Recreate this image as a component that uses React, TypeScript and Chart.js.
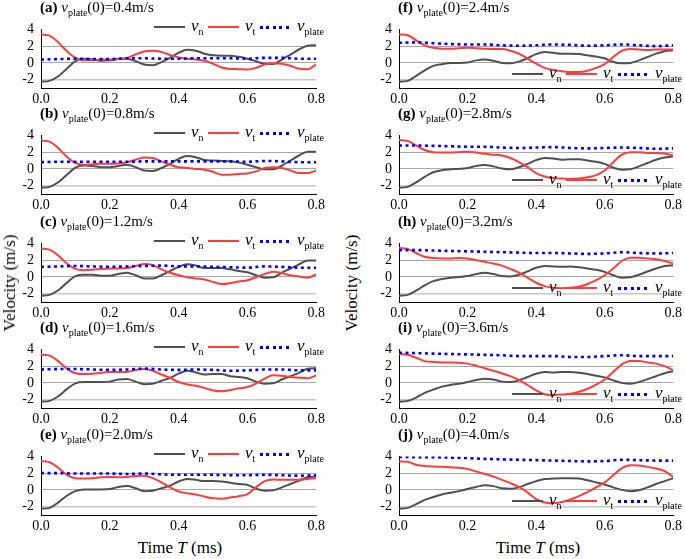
import React, { useEffect, useRef } from "react";
import { Chart, registerables } from "chart.js";

Chart.register(...registerables);

const FONT = "'Liberation Serif', serif";

const TIME = [0, 0.025, 0.05, 0.075, 0.1, 0.125, 0.15, 0.175, 0.2, 0.225, 0.25, 0.275, 0.3, 0.325, 0.35, 0.375, 0.4, 0.425, 0.45, 0.475, 0.5, 0.525, 0.55, 0.575, 0.6, 0.625, 0.65, 0.675, 0.7, 0.725, 0.75, 0.775, 0.8];
const TIME_P = [0, 0.05, 0.1, 0.15, 0.2, 0.25, 0.3, 0.35, 0.4, 0.45, 0.5, 0.55, 0.6, 0.65, 0.7, 0.75, 0.8];
const X_TICKS = [0, 0.2, 0.4, 0.6, 0.8];
const Y_TICKS = [-2, 0, 2, 4];

const VN_A = [-2.25, -2.15, -1.6, -0.7, 0.2, 0.5, 0.45, 0.25, 0.3, 0.45, 0.5, 0.2, -0.2, -0.28, 0.1, 0.6, 1.2, 1.58, 1.45, 1.1, 0.9, 0.85, 0.85, 0.72, 0.5, 0.2, -0.1, -0.12, 0.4, 1.0, 1.6, 2.05, 2.1];
const VT_A = [3.4, 3.25, 2.45, 1.4, 0.62, 0.3, 0.3, 0.4, 0.4, 0.45, 0.6, 1.0, 1.35, 1.44, 1.3, 0.95, 0.65, 0.5, 0.4, 0.25, -0.1, -0.55, -0.72, -0.75, -0.8, -0.6, -0.2, -0.05, -0.1, -0.35, -0.7, -0.75, -0.2];
const VP_A = [0.4, 0.45, 0.5, 0.45, 0.45, 0.55, 0.55, 0.5, 0.5, 0.55, 0.55, 0.55, 0.5, 0.6, 0.6, 0.5, 0.5];

const VN_B = [-2.25, -2.15, -1.6, -0.7, 0.15, 0.4, 0.35, 0.2, 0.2, 0.35, 0.5, 0.2, -0.2, -0.25, 0.1, 0.6, 1.2, 1.55, 1.4, 1.05, 1.0, 0.95, 0.9, 0.75, 0.5, 0.2, -0.05, -0.05, 0.4, 1.0, 1.6, 2.05, 2.05];
const VT_B = [3.4, 3.25, 2.5, 1.45, 0.7, 0.5, 0.55, 0.6, 0.6, 0.65, 0.8, 1.1, 1.35, 1.3, 0.9, 0.5, 0.2, 0.1, 0.0, -0.1, -0.35, -0.7, -0.7, -0.6, -0.55, -0.3, 0.1, 0.2, 0.1, -0.2, -0.5, -0.5, -0.2];
const VP_B = [0.8, 0.85, 0.85, 0.85, 0.85, 0.85, 0.9, 0.9, 0.9, 0.9, 0.9, 0.9, 0.85, 0.95, 0.9, 0.8, 0.8];

const VN_C = [-2.25, -2.15, -1.6, -0.7, 0.1, 0.25, 0.25, 0.15, 0.15, 0.35, 0.5, 0.2, -0.2, -0.2, 0.2, 0.7, 1.2, 1.5, 1.35, 1.05, 1.05, 1.05, 0.9, 0.7, 0.55, 0.2, -0.1, -0.05, 0.5, 1.0, 1.5, 1.95, 1.95];
const VT_C = [3.4, 3.25, 2.55, 1.6, 0.95, 0.8, 0.85, 0.95, 1.0, 1.0, 1.05, 1.3, 1.55, 1.4, 0.9, 0.5, 0.2, -0.05, -0.2, -0.3, -0.6, -0.85, -0.75, -0.55, -0.4, -0.05, 0.35, 0.6, 0.45, 0.2, 0.05, -0.1, 0.3];
const VP_C = [1.2, 1.25, 1.3, 1.25, 1.2, 1.25, 1.3, 1.35, 1.25, 1.25, 1.2, 1.15, 1.1, 1.25, 1.2, 1.1, 1.1];

const VN_D = [-2.25, -2.15, -1.6, -0.75, -0.05, 0.1, 0.1, 0.1, 0.15, 0.4, 0.45, 0.15, -0.15, -0.1, 0.25, 0.6, 1.1, 1.45, 1.25, 1.0, 1.05, 1.05, 0.8, 0.7, 0.55, 0.15, -0.1, -0.05, 0.4, 0.8, 1.2, 1.7, 1.75];
const VT_D = [3.4, 3.25, 2.6, 1.7, 1.15, 1.05, 1.1, 1.2, 1.3, 1.3, 1.3, 1.55, 1.65, 1.45, 1.0, 0.6, 0.1, -0.2, -0.35, -0.6, -0.9, -1.0, -0.85, -0.65, -0.5, -0.1, 0.5, 0.9, 0.85, 0.7, 0.6, 0.55, 0.9];
const VP_D = [1.6, 1.65, 1.65, 1.6, 1.55, 1.6, 1.7, 1.6, 1.55, 1.6, 1.55, 1.45, 1.5, 1.6, 1.6, 1.5, 1.5];

const VN_E = [-2.25, -2.15, -1.5, -0.7, -0.15, 0.05, 0.05, 0.05, 0.1, 0.35, 0.45, 0.2, -0.15, -0.1, 0.2, 0.5, 1.0, 1.3, 1.2, 1.05, 1.05, 1.0, 0.85, 0.7, 0.6, 0.15, -0.1, -0.05, 0.3, 0.7, 1.1, 1.5, 1.6];
const VT_E = [3.45, 3.3, 2.65, 1.8, 1.4, 1.35, 1.4, 1.5, 1.55, 1.5, 1.55, 1.65, 1.7, 1.4, 0.9, 0.3, -0.2, -0.4, -0.55, -0.8, -1.0, -1.05, -0.9, -0.75, -0.5, 0.3, 1.05, 1.25, 1.2, 1.2, 1.2, 1.3, 1.4];
const VP_E = [2.0, 2.0, 1.95, 1.95, 1.95, 1.9, 1.95, 1.85, 1.8, 1.8, 1.8, 1.75, 1.75, 1.8, 1.75, 1.7, 1.75];

const VN_F = [-2.25, -2.15, -1.55, -0.9, -0.35, -0.15, 0.0, 0.0, 0.05, 0.3, 0.4, 0.25, 0.0, -0.05, 0.15, 0.55, 1.05, 1.3, 1.2, 1.1, 1.1, 1.05, 0.9, 0.75, 0.55, 0.1, -0.05, 0.0, 0.3, 0.7, 1.1, 1.4, 1.5];
const VT_F = [3.4, 3.3, 2.7, 2.1, 1.8, 1.7, 1.7, 1.75, 1.8, 1.75, 1.7, 1.65, 1.65, 1.45, 1.1, 0.5, -0.1, -0.6, -0.85, -1.0, -1.1, -1.1, -0.95, -0.6, -0.15, 0.7, 1.45, 1.65, 1.6, 1.55, 1.6, 1.6, 1.6];
const VP_F = [2.4, 2.45, 2.35, 2.25, 2.2, 2.2, 2.1, 2.05, 2.1, 2.2, 2.15, 2.05, 2.1, 2.2, 2.1, 2.0, 2.1];

const VN_G = [-2.25, -2.15, -1.6, -0.95, -0.4, -0.15, -0.05, 0.0, 0.1, 0.35, 0.45, 0.3, 0.05, -0.05, 0.2, 0.6, 1.05, 1.3, 1.25, 1.1, 1.15, 1.15, 1.0, 0.85, 0.6, 0.15, -0.1, -0.05, 0.3, 0.7, 1.1, 1.35, 1.5];
const VT_G = [3.45, 3.35, 2.8, 2.25, 2.0, 1.95, 1.95, 2.0, 2.05, 1.95, 1.8, 1.7, 1.6, 1.3, 0.8, 0.2, -0.5, -0.9, -1.1, -1.15, -1.2, -1.15, -1.0, -0.75, -0.2, 0.8, 1.7, 2.0, 2.0, 1.9, 1.9, 1.85, 1.6];
const VP_G = [2.8, 2.8, 2.75, 2.7, 2.65, 2.65, 2.55, 2.5, 2.55, 2.6, 2.5, 2.45, 2.5, 2.55, 2.5, 2.4, 2.45];

const VN_H = [-2.25, -2.15, -1.65, -1.0, -0.5, -0.25, -0.1, 0.0, 0.1, 0.35, 0.5, 0.35, 0.1, 0.05, 0.25, 0.65, 1.1, 1.3, 1.25, 1.2, 1.25, 1.15, 1.0, 0.85, 0.6, 0.2, -0.1, -0.05, 0.25, 0.65, 1.0, 1.3, 1.4];
const VT_H = [3.45, 3.35, 2.85, 2.4, 2.25, 2.2, 2.2, 2.25, 2.2, 2.0, 1.8, 1.6, 1.35, 0.95, 0.5, -0.1, -0.7, -1.1, -1.3, -1.35, -1.3, -1.15, -0.85, -0.4, 0.2, 1.0, 1.9, 2.3, 2.3, 2.2, 2.1, 1.9, 1.6];
const VP_H = [3.2, 3.2, 3.15, 3.1, 3.05, 3.0, 2.95, 2.9, 2.85, 2.85, 2.8, 2.75, 2.8, 2.95, 2.85, 2.8, 2.85];

const VN_I = [-2.25, -2.15, -1.75, -1.2, -0.8, -0.45, -0.25, -0.1, 0.1, 0.35, 0.5, 0.4, 0.15, 0.1, 0.3, 0.7, 1.1, 1.3, 1.25, 1.3, 1.3, 1.2, 1.05, 0.85, 0.65, 0.3, 0.0, -0.1, 0.1, 0.45, 0.8, 1.15, 1.4];
const VT_I = [3.45, 3.35, 3.0, 2.6, 2.5, 2.45, 2.45, 2.4, 2.3, 2.05, 1.75, 1.45, 1.15, 0.8, 0.35, -0.25, -0.9, -1.35, -1.45, -1.4, -1.3, -1.05, -0.7, -0.2, 0.4, 1.3, 2.2, 2.6, 2.6, 2.45, 2.3, 2.0, 1.5];
const VP_I = [3.6, 3.55, 3.5, 3.45, 3.4, 3.35, 3.3, 3.2, 3.2, 3.2, 3.1, 3.1, 3.2, 3.3, 3.2, 3.2, 3.2];

const VN_J = [-2.25, -2.15, -1.7, -1.2, -0.85, -0.55, -0.35, -0.15, 0.1, 0.35, 0.55, 0.45, 0.2, 0.15, 0.3, 0.7, 1.05, 1.3, 1.35, 1.4, 1.4, 1.35, 1.15, 0.9, 0.65, 0.3, 0.0, -0.15, -0.05, 0.3, 0.7, 1.05, 1.4];
const VT_J = [3.4, 3.35, 3.0, 2.85, 2.8, 2.75, 2.7, 2.65, 2.5, 2.2, 1.9, 1.6, 1.2, 0.8, 0.35, -0.3, -1.1, -1.5, -1.6, -1.45, -1.15, -0.75, -0.25, 0.3, 0.9, 1.75, 2.6, 2.95, 2.9, 2.75, 2.55, 2.25, 1.5];
const VP_J = [3.95, 3.9, 3.9, 3.85, 3.8, 3.7, 3.65, 3.6, 3.55, 3.5, 3.45, 3.4, 3.45, 3.6, 3.55, 3.5, 3.5];

const LETTERS = ["(a)", "(b)", "(c)", "(d)", "(e)", "(f)", "(g)", "(h)", "(i)", "(j)"];
const V_PLATE0 = ["0.4", "0.8", "1.2", "1.6", "2.0", "2.4", "2.8", "3.2", "3.6", "4.0"];
const SERIES_VN = [VN_A, VN_B, VN_C, VN_D, VN_E, VN_F, VN_G, VN_H, VN_I, VN_J];
const SERIES_VT = [VT_A, VT_B, VT_C, VT_D, VT_E, VT_F, VT_G, VT_H, VT_I, VT_J];
const SERIES_VP = [VP_A, VP_B, VP_C, VP_D, VP_E, VP_F, VP_G, VP_H, VP_I, VP_J];

const COLOR_N = "#505050";
const COLOR_T = "#ff3c3c";
const COLOR_P = "#0000ff";

// layout
const COL_LEFT = [41, 399];
const COL_WIDTH = [279, 278];
const ROW_TOP = [22, 128, 236, 342, 449];
const PLOT_H = 66;
const Y_AXIS_W = 41;
const PAD_TOP = 8;
const X_AXIS_H = 22;
const PAD_RIGHT = 8;

const pts = (xs: number[], ys: number[]) => xs.map((x, i) => ({ x, y: ys[i] }));

const subStyle: React.CSSProperties = {
  fontSize: 10,
  verticalAlign: "baseline",
  position: "relative",
  top: 4,
  fontStyle: "normal",
};

function LegendItem({ x, y, kind, sub }: { x: number; y: number; kind: string; sub: string }) {
  const lineStyle: React.CSSProperties =
    kind === "p"
      ? {
          position: "absolute",
          left: x,
          top: y - 1.5,
          width: 31,
          height: 3,
          background: `repeating-linear-gradient(to right, ${COLOR_P} 0px, ${COLOR_P} 3px, transparent 3px, transparent 6.5px)`,
        }
      : {
          position: "absolute",
          left: x,
          top: y - 1,
          width: 31,
          height: 2,
          background: kind === "n" ? COLOR_N : COLOR_T,
        };
  return (
    <>
      <div style={lineStyle} />
      <div
        style={{
          position: "absolute",
          left: x + 37,
          top: y - 10,
          fontSize: 17,
          lineHeight: "17px",
          whiteSpace: "nowrap",
          fontStyle: "italic",
        }}
      >
        v<span style={subStyle}>{sub}</span>
      </div>
    </>
  );
}

function Panel({ idx }: { idx: number }) {
  const ref = useRef<HTMLCanvasElement | null>(null);
  const col = idx < 5 ? 0 : 1;
  const row = idx % 5;
  const L = COL_LEFT[col];
  const W = COL_WIDTH[col];
  const T = ROW_TOP[row];
  const canvasLeft = L - Y_AXIS_W;
  const canvasTop = T - PAD_TOP;
  const cw = Y_AXIS_W + W + PAD_RIGHT;
  const ch = PAD_TOP + PLOT_H + X_AXIS_H;

  useEffect(() => {
    if (!ref.current) return;
    const chart = new Chart(ref.current, {
      type: "line",
      data: {
        datasets: [
          {
            data: pts(TIME_P, SERIES_VP[idx]),
            borderColor: COLOR_P,
            borderWidth: 2.6,
            borderDash: [3, 3.5],
            borderCapStyle: "butt",
            pointRadius: 0,
            cubicInterpolationMode: "monotone",
            fill: false,
          },
          {
            data: pts(TIME, SERIES_VT[idx]),
            borderColor: COLOR_T,
            borderWidth: 2,
            pointRadius: 0,
            cubicInterpolationMode: "monotone",
            fill: false,
          },
          {
            data: pts(TIME, SERIES_VN[idx]),
            borderColor: COLOR_N,
            borderWidth: 2,
            pointRadius: 0,
            cubicInterpolationMode: "monotone",
            fill: false,
          },
        ],
      },
      options: {
        responsive: false,
        animation: false,
        devicePixelRatio: 1,
        events: [],
        layout: { padding: { left: 0, right: PAD_RIGHT, top: PAD_TOP, bottom: 0 }, autoPadding: false },
        plugins: { legend: { display: false }, tooltip: { enabled: false }, title: { display: false } },
        scales: {
          x: {
            type: "linear",
            min: 0,
            max: 0.8,
            afterBuildTicks: (a: any) => {
              a.ticks = X_TICKS.map((v) => ({ value: v }));
            },
            afterFit: (s: any) => {
              s.height = X_AXIS_H;
            },
            grid: { display: false, drawTicks: false },
            border: { display: true, color: "#000", width: 1 },
            ticks: {
              padding: 3,
              color: "#000",
              font: { family: FONT, size: 14 },
              maxRotation: 0,
              autoSkip: false,
              callback: (v: any) => Number(v).toFixed(1),
            },
          },
          y: {
            type: "linear",
            min: -3,
            max: 4,
            afterBuildTicks: (a: any) => {
              a.ticks = Y_TICKS.map((v) => ({ value: v }));
            },
            afterFit: (s: any) => {
              s.width = Y_AXIS_W;
            },
            grid: {
              drawTicks: false,
              lineWidth: (ctx: any) => (ctx.tick && ctx.tick.value === -2 ? 1.5 : 1),
              color: (ctx: any) =>
                ctx.tick && ctx.tick.value === 4 ? "rgba(0,0,0,0)" : ctx.tick && ctx.tick.value === -2 ? "#c8c8c8" : "#a8a8a8",
            },
            border: { display: true, color: "#000", width: 1 },
            ticks: {
              padding: 7,
              color: "#000",
              autoSkip: false,
              font: { family: FONT, size: 14 },
              callback: (v: any) => String(v),
            },
          },
        },
      },
    } as any);
    return () => chart.destroy();
  }, [idx]);

  const legendY = col === 0 ? T + 5 : T + 52;
  return (
    <>
      <canvas
        ref={ref}
        width={cw}
        height={ch}
        style={{ position: "absolute", left: canvasLeft, top: canvasTop, width: cw, height: ch }}
      />
      <div
        style={{
          position: "absolute",
          left: L - 1,
          top: T - 23,
          fontSize: 15,
          lineHeight: "17px",
          whiteSpace: "nowrap",
        }}
      >
        <b>{LETTERS[idx]}</b> <i>v</i>
        <span style={subStyle}>plate</span>(0)={V_PLATE0[idx]}m/s
      </div>
      <LegendItem x={L + 113} y={legendY} kind="n" sub="n" />
      <LegendItem x={L + 167} y={legendY} kind="t" sub="t" />
      <LegendItem x={L + 219} y={legendY} kind="p" sub="plate" />
    </>
  );
}

export default function App() {
  const ids = [0, 1, 2, 3, 4, 5, 6, 7, 8, 9];
  const vLabel = (x: number) => (
    <div
      style={{
        position: "absolute",
        left: x,
        top: 283,
        transform: "translate(-50%, -50%) rotate(-90deg)",
        fontSize: 17,
        whiteSpace: "nowrap",
      }}
    >
      Velocity (m/s)
    </div>
  );
  const tLabel = (x: number) => (
    <div
      style={{
        position: "absolute",
        left: x,
        top: 548,
        transform: "translate(-50%, -50%)",
        fontSize: 17,
        whiteSpace: "nowrap",
      }}
    >
      Time <i>T</i> (ms)
    </div>
  );
  return (
    <div
      style={{
        position: "absolute",
        left: 0,
        top: 0,
        width: 685,
        height: 559,
        background: "#fff",
        overflow: "hidden",
        fontFamily: FONT,
        color: "#000",
      }}
    >
      {vLabel(352)}
      {ids.map((i) => (
        <Panel key={i} idx={i} />
      ))}
      {vLabel(10)}
      {tLabel(180)}
      {tLabel(538)}
    </div>
  );
}
